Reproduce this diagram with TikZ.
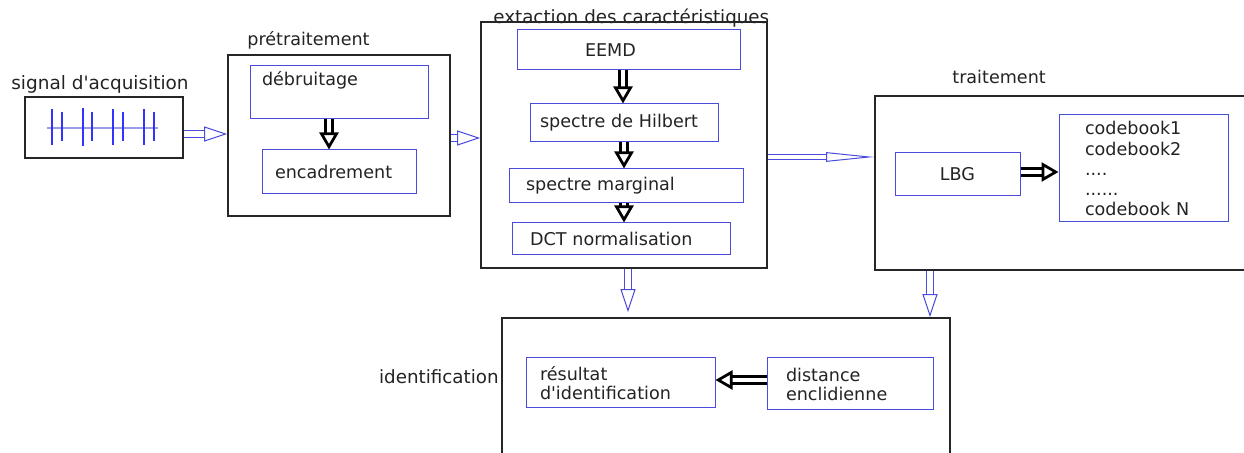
\documentclass[tikz,border=0pt]{standalone}
\usepackage{fontspec}
\setmainfont{DejaVu Sans}[Ligatures=TeXOff]
\usetikzlibrary{arrows.meta,positioning,calc}
\definecolor{boxblue}{RGB}{75,75,220}
\definecolor{txtgray}{RGB}{35,35,35}
\tikzset{
  obox/.style={rectangle,draw=black!85,line width=0.35mm,inner sep=0pt},
  ibox/.style={rectangle,draw=boxblue,line width=0.2mm,align=left,text=txtgray},
  ttl/.style={inner sep=0pt,text=txtgray,anchor=west},
  he/.style={draw=boxblue,line width=0.2mm,double=white,double distance=1.2mm,-{Triangle[open,fill=white,length=4.6mm,width=3mm]}},
  hne/.style={draw=boxblue,line width=0.2mm,double=white,double distance=0.9mm,-{Triangle[open,fill=white,length=9.6mm,width=1.9mm]}},
  be/.style={draw=black,line width=0.55mm,double=white,double distance=0.9mm,-{Triangle[open,fill=white,length=3.4mm,width=3.8mm]}}
}

\begin{document}
\begin{tikzpicture}[x=0.2mm,y=-0.2mm,font=\fontsize{10}{10.8}\selectfont]
\useasboundingbox (0,0) rectangle (1244,453);
% titles
\node[ttl,font=\fontsize{10.5}{12}\selectfont] (tsig) at (11,84) {signal d'acquisition};
\node[ttl] (tpre) at (247,40) {prétraitement};
\node[ttl,anchor=base west,font=\fontsize{10.4}{12}\selectfont] (text) at (493,24) {extaction des caractéristiques};
\node[ttl] (ttrt) at (952,77) {traitement};
\node[ttl,anchor=east,font=\fontsize{10.4}{12}\selectfont] (tidf) at (499,377) {identification};
% outer blocks
\node[obox,minimum width=31.6mm,minimum height=12.2mm] (sig) at (104,127.5) {};
\node[obox,minimum width=44.4mm,minimum height=32.2mm] (pre) at (339,135.5) {};
\node[obox,minimum width=57.2mm,minimum height=49.2mm] (ext) at (624,145) {};
\node[obox,minimum width=75.4mm,minimum height=34.8mm] (trt) at (1063.5,183) {};
\node[obox,minimum width=89.6mm,minimum height=28.4mm] (idf) at (726,389) {};
% signal
\draw[boxblue!55,line width=0.25mm] (47,128) -- (158,128);
\draw[blue!80,line width=0.45mm] (52,109) -- (52,145) (62,112) -- (62,141)
  (83,108) -- (83,146) (92,112) -- (92,141) (113,109) -- (113,145) (123,112) -- (123,141)
  (144,109) -- (144,145) (154,112) -- (154,141);
% inner blocks
\node[ibox,text width=30.8mm,inner xsep=2.4mm,minimum height=10.4mm,text height=3mm,text depth=5.4mm] (deb) at (339,92) {débruitage};
\node[ibox,text width=25.6mm,inner xsep=2.6mm,minimum height=8.8mm] (enc) at (339,172) {encadrement};
\node[ibox,text width=17.4mm,inner xsep=13.6mm,minimum height=8mm] (eemd) at (628.5,50) {EEMD};
\node[ibox,text width=33.6mm,inner xsep=2mm,minimum height=7.6mm] (hil) at (624,123) {spectre de Hilbert};
\node[ibox,text width=40mm,inner xsep=3.4mm,minimum height=6.8mm] (mrg) at (626,186) {spectre marginal};
\node[ibox,text width=36.4mm,inner xsep=3.6mm,minimum height=6.4mm] (dct) at (621,239) {DCT normalisation};
\node[ibox,align=center,minimum width=25mm,minimum height=8.6mm] (lbg) at (957.5,174.5) {LBG};
\node[ibox,text width=23.4mm,inner xsep=5.2mm,minimum height=21.4mm,font=\fontsize{10}{11.4}\selectfont] (cb) at (1143.5,168.5) {codebook1\\codebook2\\....\\......\\codebook N};
\node[ibox,text width=32.2mm,inner xsep=2.8mm,minimum height=10mm] (res) at (620.5,383) {résultat\\d'identification};
\node[ibox,text width=25.6mm,inner xsep=3.8mm,minimum height=10.4mm] (dst) at (850,384) {distance\\enclidienne};
% flow between blocks
\draw[he] ([yshift=-1.3mm]sig.east) -- ([yshift=-1.3mm]sig.east -| pre.west);
\draw[he] ([yshift=-0.5mm]pre.east) -- ([yshift=-0.5mm]pre.east -| ext.west);
\draw[hne] ([yshift=-2.4mm]ext.east) -- ([yshift=-2.4mm]ext.east -| trt.west);
\draw[he,shorten >=1mm] ([xshift=0.8mm]ext.south) -- ([xshift=0.8mm]ext.south |- idf.north);
\draw[he] ([xshift=-26.7mm]trt.south) -- ([xshift=-26.7mm]trt.south |- idf.north);
% flow inside blocks
\draw[be] ([xshift=-2mm]deb.south) -- ([xshift=-2mm]deb.south |- enc.north);
\draw[be] ([xshift=-1.1mm]eemd.south) -- ([xshift=-1.1mm]eemd.south |- hil.north);
\draw[be] (hil.south) -- (hil.south |- mrg.north);
\draw[be] ([xshift=-0.4mm]mrg.south) -- ([xshift=-0.4mm]mrg.south |- dct.north);
\draw[be] ([yshift=0.5mm]lbg.east) -- ([yshift=0.5mm]lbg.east -| cb.west);
\draw[be] ([yshift=0.8mm]dst.west) -- ([yshift=0.8mm]dst.west -| res.east);
\end{tikzpicture}
\end{document}
